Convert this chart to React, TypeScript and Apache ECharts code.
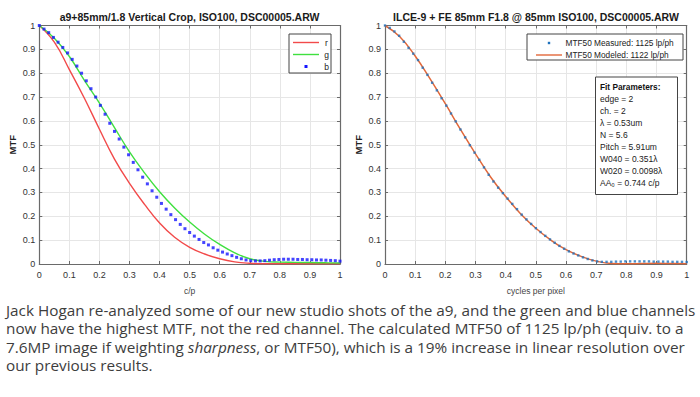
import React, { useEffect, useRef } from 'react';
import * as echarts from 'echarts';

// ---------- data ----------
const curveT = [0, 0.05, 0.1, 0.15, 0.2, 0.25, 0.3, 0.35, 0.4, 0.45, 0.5, 0.55, 0.6, 0.65, 0.7, 0.75, 0.8, 0.85, 0.9, 0.95, 1];
const redMTF = [1, 0.93, 0.815, 0.695, 0.565, 0.44, 0.338, 0.25, 0.172, 0.112, 0.07, 0.042, 0.022, 0.009, 0.003, 0.001, 0.001, 0.001, 0.001, 0.001, 0.001];
const greenMTF = [1, 0.947, 0.87, 0.77, 0.675, 0.572, 0.47, 0.382, 0.303, 0.235, 0.176, 0.125, 0.082, 0.047, 0.022, 0.011, 0.008, 0.007, 0.006, 0.005, 0.004];
const dotStep = 1 / 64; // sampling step of the measured dots (cycles/pixel)
const blueMTF = [
  1.0, 0.985, 0.97, 0.95, 0.93, 0.908, 0.885, 0.858, 0.83, 0.8,
  0.768, 0.735, 0.7, 0.665, 0.628, 0.59, 0.556, 0.524, 0.49, 0.458,
  0.426, 0.395, 0.364, 0.336, 0.307, 0.28, 0.254, 0.23, 0.207, 0.186,
  0.166, 0.148, 0.132, 0.117, 0.103, 0.09, 0.08, 0.068, 0.058, 0.05,
  0.042, 0.035, 0.028, 0.022, 0.017, 0.014, 0.013, 0.013, 0.014, 0.016,
  0.018, 0.019, 0.02, 0.02, 0.02, 0.019, 0.019, 0.018, 0.018, 0.017,
  0.017, 0.016, 0.015, 0.014, 0.012,
];
const modeledMTF = [1, 0.952, 0.872, 0.775, 0.672, 0.564, 0.462, 0.365, 0.283, 0.21, 0.15, 0.1, 0.06, 0.032, 0.012, 0.002, 0.001, 0.002, 0.003, 0.002, 0.001];
const measuredMTF = [
  1.0, 0.99, 0.975, 0.957, 0.932, 0.906, 0.882, 0.855, 0.823, 0.793,
  0.76, 0.728, 0.695, 0.664, 0.631, 0.598, 0.564, 0.531, 0.498, 0.467,
  0.437, 0.405, 0.374, 0.346, 0.32, 0.297, 0.274, 0.252, 0.23, 0.207,
  0.187, 0.168, 0.15, 0.134, 0.118, 0.103, 0.089, 0.076, 0.064, 0.053,
  0.044, 0.036, 0.028, 0.021, 0.015, 0.011, 0.009, 0.009, 0.009, 0.01,
  0.01, 0.011, 0.011, 0.011, 0.011, 0.011, 0.011, 0.01, 0.01, 0.01,
  0.01, 0.009, 0.009, 0.009, 0.008,
];
const tickLabels = ['0', '0.1', '0.2', '0.3', '0.4', '0.5', '0.6', '0.7', '0.8', '0.9', '1'];
const leftTitle = 'a9+85mm/1.8 Vertical Crop, ISO100, DSC00005.ARW';
const rightTitle = 'ILCE-9 + FE 85mm F1.8 @ 85mm ISO100, DSC00005.ARW';
const leftXName = 'c/p';
const rightXName = 'cycles per pixel';
const yName = 'MTF';
const leftLegend = ['r', 'g', 'b'];
const rightLegend = ['MTF50 Measured: 1125 lp/ph', 'MTF50 Modeled: 1122 lp/ph'];
const fitTitle = 'Fit Parameters:';
const fitParams = ['edge = 2', 'ch. = 2', 'λ = 0.53um', 'N = 5.6', 'Pitch = 5.91um', 'W040 = 0.351λ', 'W020 = 0.0098λ', 'AA₀ = 0.744 c/p'];
const paragraph = [
  'Jack Hogan re-analyzed some of our new studio shots of the a9, and the green and blue channels',
  'now have the highest MTF, not the red channel. The calculated MTF50 of 1125 lp/ph (equiv. to a',
  '7.6MP image if weighting {i|sharpness}, or MTF50), which is a 19% increase in linear resolution over',
  'our previous results.',
];

const RED = '#f24a4a';
const GREEN = '#3fe03f';
const BLUE = '#1515ff';
const ORANGE = '#e2683a';
const MBLUE = '#1f72bd';
const AXIS = '#6a6a6a';
const GRIDC = '#e6e6e6';
const LBL = '#333333';
const SANS = 'Arial, "Liberation Sans", Helvetica, sans-serif';
const PFONT = '"Open Sans", sans-serif';
const PSIZE = 15.3;

const grids = [
  { left: 39.3, top: 25.5, width: 300.7, height: 238.5 },
  { left: 385, top: 25.5, width: 301.7, height: 238.5 },
];

function pairs(xs: number[], ys: number[]) {
  return ys.map((v, i) => [xs[i], v]);
}
function dots(ys: number[]) {
  return ys.map((v, i) => [i * dotStep, v]);
}

function xAxes(g: number, name: string) {
  const base = {
    type: 'value', gridIndex: g, min: 0, max: 1, interval: 0.1,
    axisLine: { show: true, onZero: false, lineStyle: { color: AXIS, width: 1.2 } },
    axisTick: { show: true, inside: true, length: 3, lineStyle: { color: AXIS } },
  };
  return [
    {
      ...base, position: 'bottom',
      axisLabel: { show: true, formatter: (v: number) => tickLabels[Math.round(v * 10)], fontSize: 9, color: LBL, fontFamily: SANS, margin: 6, showMinLabel: true, showMaxLabel: true },
      splitLine: { show: true, lineStyle: { color: GRIDC, width: 1 } },
      name, nameLocation: 'middle', nameGap: 22,
      nameTextStyle: { fontSize: 8.5, color: '#444', fontFamily: SANS },
    },
    { ...base, position: 'top', axisLabel: { show: false }, splitLine: { show: false } },
  ];
}
function yAxes(g: number) {
  const base = {
    type: 'value', gridIndex: g, min: 0, max: 1, interval: 0.1,
    axisLine: { show: true, onZero: false, lineStyle: { color: AXIS, width: 1.2 } },
    axisTick: { show: true, inside: true, length: 3, lineStyle: { color: AXIS } },
  };
  return [
    {
      ...base, position: 'left',
      axisLabel: { show: true, formatter: (v: number) => tickLabels[Math.round(v * 10)], fontSize: 9, color: LBL, fontFamily: SANS, margin: 4, showMinLabel: true, showMaxLabel: true },
      splitLine: { show: true, lineStyle: { color: GRIDC, width: 1 } },
      name: yName, nameLocation: 'middle', nameGap: 22, nameRotate: 90,
      nameTextStyle: { fontSize: 9.5, color: '#222', fontFamily: SANS, fontWeight: 'bold' },
    },
    { ...base, position: 'right', axisLabel: { show: false }, splitLine: { show: false } },
  ];
}

function buildGraphics() {
  const els: any[] = [];
  // left legend
  els.push({ type: 'rect', shape: { x: 289, y: 34, width: 42, height: 39 }, style: { fill: '#fff', stroke: '#444', lineWidth: 1 }, z: 10 });
  const lRows = [42.5, 54.5, 66.5];
  const lColors = [RED, GREEN, BLUE];
  leftLegend.forEach((name, i) => {
    if (i < 2) {
      els.push({ type: 'line', shape: { x1: 293, y1: lRows[i], x2: 319, y2: lRows[i] }, style: { stroke: lColors[i], lineWidth: 1.4 }, z: 11 });
    } else {
      els.push({ type: 'rect', shape: { x: 304.5, y: lRows[i] - 1.5, width: 3, height: 3 }, style: { fill: BLUE }, z: 11 });
    }
    els.push({ type: 'text', x: 326.5, y: lRows[i], style: { text: name, fontSize: 8.5, fontFamily: SANS, fill: '#222', align: 'center', verticalAlign: 'middle' }, z: 11 });
  });
  // right legend
  els.push({ type: 'rect', shape: { x: 527, y: 34, width: 156, height: 26 }, style: { fill: '#fff', stroke: '#444', lineWidth: 1 }, z: 10 });
  const rRows = [43, 55];
  els.push({ type: 'rect', shape: { x: 547.8, y: rRows[0] - 1.2, width: 2.4, height: 2.4 }, style: { fill: MBLUE }, z: 11 });
  els.push({ type: 'line', shape: { x1: 536, y1: rRows[1], x2: 562, y2: rRows[1] }, style: { stroke: ORANGE, lineWidth: 1.4 }, z: 11 });
  rightLegend.forEach((name, i) => {
    els.push({ type: 'text', x: 565.5, y: rRows[i], style: { text: name, fontSize: 8.3, fontFamily: SANS, fill: '#222', align: 'left', verticalAlign: 'middle' }, z: 11 });
  });
  // fit parameter box
  els.push({ type: 'rect', shape: { x: 595.5, y: 77, width: 82, height: 117.5 }, style: { fill: '#fff', stroke: '#444', lineWidth: 1 }, z: 10 });
  els.push({ type: 'text', x: 600, y: 86.7, style: { text: fitTitle, fontSize: 8.3, fontWeight: 'bold', fontFamily: SANS, fill: '#111', align: 'left', verticalAlign: 'middle' }, z: 11 });
  fitParams.forEach((t, i) => {
    els.push({ type: 'text', x: 600, y: 98.7 + i * 12, style: { text: t, fontSize: 8.5, fontFamily: SANS, fill: '#222', align: 'left', verticalAlign: 'middle' }, z: 11 });
  });
  // paragraph
  const pY = [310, 328.3, 346.6, 364.9];
  paragraph.forEach((line, i) => {
    els.push({
      type: 'text', x: 6, y: pY[i],
      style: {
        text: line, fontSize: PSIZE, lineHeight: 17, fontFamily: PFONT, fill: '#3d3d3d', align: 'left', verticalAlign: 'middle',
        rich: { i: { fontStyle: 'italic', fontSize: PSIZE, lineHeight: 17, fontFamily: PFONT, fill: '#3d3d3d' } },
      },
      z: 11,
    });
  });
  return els;
}

export default function App() {
  const ref = useRef<HTMLDivElement>(null);
  useEffect(() => {
    if (!ref.current) return;
    const chart = echarts.init(ref.current, undefined, { renderer: 'svg' });
    const lineBase = { type: 'line', smooth: 0.45, symbol: 'none', showSymbol: false };
    const option: any = {
      animation: false,
      backgroundColor: '#ffffff',
      title: [
        { text: leftTitle, left: 189.6, top: 11.5, textAlign: 'center', padding: 0, textStyle: { fontSize: 10.5, fontWeight: 'bold', color: '#1a1a1a', fontFamily: SANS } },
        { text: rightTitle, left: 536, top: 11.5, textAlign: 'center', padding: 0, textStyle: { fontSize: 10.5, fontWeight: 'bold', color: '#1a1a1a', fontFamily: SANS } },
      ],
      grid: grids.map((g) => ({ ...g, containLabel: false })),
      xAxis: [...xAxes(0, leftXName), ...xAxes(1, rightXName)],
      yAxis: [...yAxes(0), ...yAxes(1)],
      series: [
        { ...lineBase, name: 'r', xAxisIndex: 0, yAxisIndex: 0, data: pairs(curveT, redMTF), lineStyle: { color: RED, width: 1.4 }, z: 3 },
        { ...lineBase, name: 'g', xAxisIndex: 0, yAxisIndex: 0, data: pairs(curveT, greenMTF), lineStyle: { color: GREEN, width: 1.4 }, z: 3 },
        { name: 'b', type: 'scatter', xAxisIndex: 0, yAxisIndex: 0, data: dots(blueMTF), symbol: 'rect', symbolSize: 3, itemStyle: { color: BLUE }, z: 4 },
        { ...lineBase, name: 'MTF50 Modeled', xAxisIndex: 2, yAxisIndex: 2, data: pairs(curveT, modeledMTF), lineStyle: { color: ORANGE, width: 1.5 }, z: 3 },
        { name: 'MTF50 Measured', type: 'scatter', xAxisIndex: 2, yAxisIndex: 2, data: dots(measuredMTF), symbol: 'rect', symbolSize: 2.4, itemStyle: { color: MBLUE }, z: 4 },
      ],
      graphic: buildGraphics(),
    };
    chart.setOption(option);
    return () => chart.dispose();
  }, []);
  return (
    <div style={{ position: 'fixed', left: 0, top: 0, width: 700, height: 397, background: '#fff' }}>
      <div ref={ref} style={{ width: 700, height: 397 }} />
    </div>
  );
}
